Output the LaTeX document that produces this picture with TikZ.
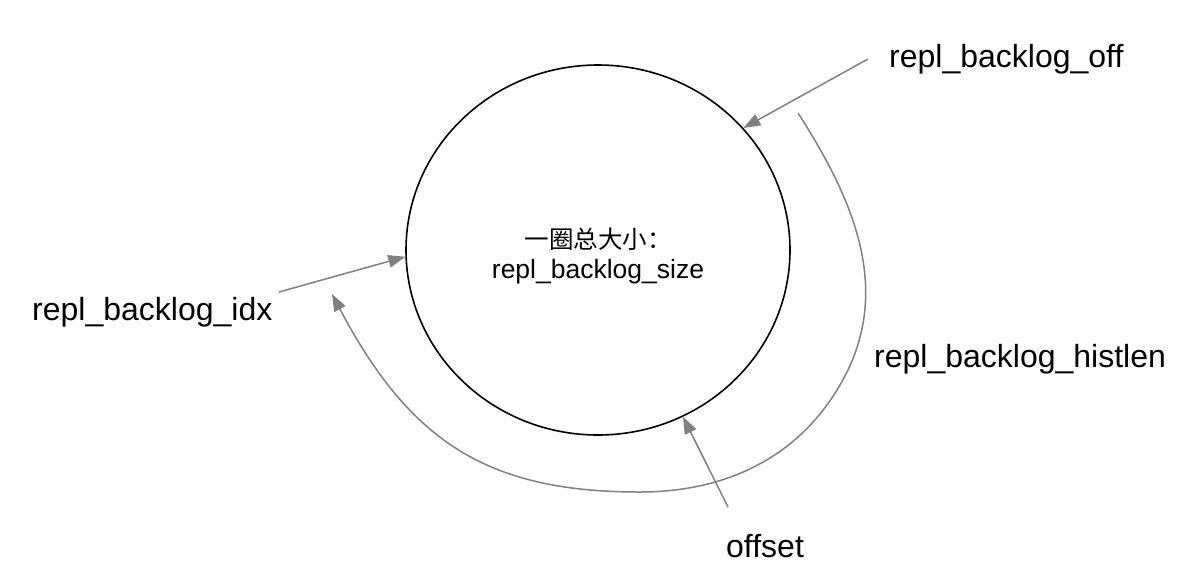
\documentclass[tikz,border=0pt]{standalone}
\usepackage{fontspec}
\setmainfont{Liberation Sans}
\newfontfamily\cjk{Noto Sans CJK SC}
\usetikzlibrary{shapes.geometric,arrows.meta}
\definecolor{arrowgray}{HTML}{808080}
\tikzset{
  ring/.style={ellipse, draw=black, line width=1.6pt, minimum width=384pt, minimum height=370pt, inner sep=0pt},
  biglabel/.style={anchor=base west, inner sep=0pt, font=\fontsize{32}{36}\selectfont},
  conn/.style={draw=arrowgray, line width=1.5pt, -{Triangle[length=17pt,width=12.5pt]}},
}
\begin{document}
\begin{tikzpicture}[x=1pt,y=-1pt]
\useasboundingbox (0,0) rectangle (1200,582);
\fill[white] (0,0) rectangle (1200,582);

\node[ring] (ring) at (598,250) {};
\node[align=center, inner sep=0pt, font=\fontsize{26.5}{29.5}\selectfont] (sizelbl) at (598,256)
  {{\cjk\fontsize{24.5}{29.5}\selectfont 一圈总大小：}\\repl\_backlog\_size};

\node[biglabel] (offlbl) at (889,67) {repl\_backlog\_off};
\node[biglabel] (idxlbl) at (32,320) {repl\_backlog\_idx};
\node[biglabel] (histlbl) at (874,367) {repl\_backlog\_histlen};
\node[biglabel] (offsetlbl) at (726,557) {offset};

\coordinate (offS) at (868,59);
\coordinate (idxS) at (279,292);
\coordinate (offsetS) at (728,507);
\coordinate (histS) at (798,113);
\coordinate (histA) at (846,374);
\coordinate (histB) at (640,492);
\coordinate (histE) at (332,294);

\draw[conn] (offS) -- (ring.40.8);
\draw[conn] (idxS) -- (ring.182);
\draw[conn] (offsetS) -- (ring.-63.4);
\draw[conn] (histS) .. controls (852,197) and (891,285) .. (histA)
  .. controls (805,454) and (730,492) .. (histB)
  .. controls (490,492) and (411,444) .. (histE);
\end{tikzpicture}
\end{document}
